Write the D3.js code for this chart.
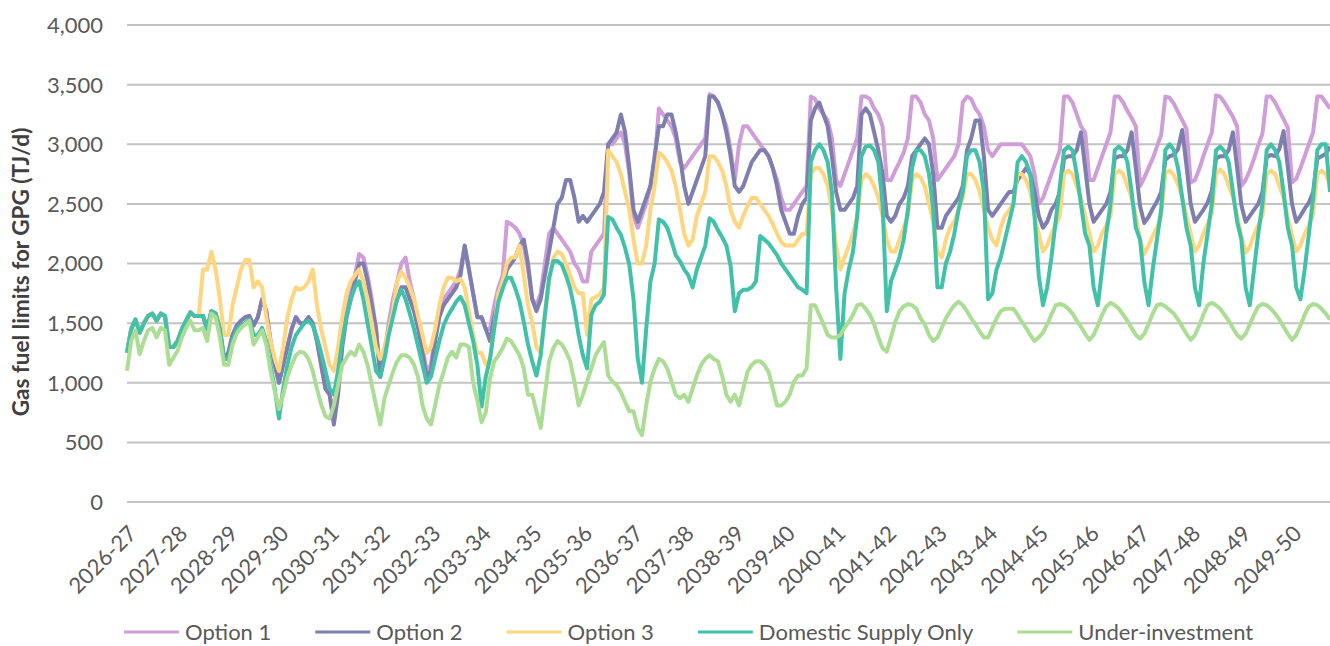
<!DOCTYPE html>
<html lang="en">
<head>
<meta charset="utf-8">
<title>Gas fuel limits for GPG</title>
<script src="https://d3js.org/d3.v7.min.js"></script>
<style>
    body {
        margin: 0;
        background: white;
    }
    text {
        font-family: Lato, "Open Sans", sans-serif;
        fill: #595959;
    }
</style>
</head>
<body>
<script type="text/javascript">

// financial years on the x axis (Jul - Jun)
var years = ["2026-27", "2027-28", "2028-29", "2029-30", "2030-31", "2031-32",
             "2032-33", "2033-34", "2034-35", "2035-36", "2036-37", "2037-38",
             "2038-39", "2039-40", "2040-41", "2041-42", "2042-43", "2043-44",
             "2044-45", "2045-46", "2046-47", "2047-48", "2048-49", "2049-50"];

// monthly values (TJ/d), one row per financial year
var domestic = [
    [1250, 1450, 1530, 1420, 1500, 1560, 1580, 1520, 1580, 1560, 1300, 1300],
    [1350, 1450, 1520, 1590, 1560, 1560, 1560, 1450, 1600, 1580, 1450, 1200],
    [1200, 1350, 1450, 1480, 1500, 1530, 1400, 1400, 1460, 1350, 1150, 950],
    [700, 950, 1150, 1300, 1400, 1450, 1500, 1520, 1480, 1380, 1250, 1100],
    [950, 900, 1100, 1350, 1550, 1700, 1800, 1850, 1700, 1500, 1300, 1100],
    [1050, 1200, 1400, 1550, 1700, 1780, 1700, 1580, 1450, 1300, 1150, 1000],
    [1050, 1200, 1350, 1480, 1560, 1620, 1680, 1720, 1650, 1500, 1350, 1150],
    [800, 1050, 1200, 1460, 1680, 1790, 1880, 1880, 1790, 1680, 1510, 1320],
    [1180, 1060, 1230, 1570, 1880, 2020, 2020, 1990, 1900, 1790, 1620, 1400],
    [1230, 1120, 1570, 1650, 1680, 1740, 2390, 2370, 2300, 2240, 2130, 1990],
    [1700, 1200, 1000, 1450, 1850, 2000, 2370, 2350, 2300, 2190, 2070, 2020],
    [1950, 1900, 1800, 1950, 2050, 2150, 2380, 2350, 2280, 2220, 2150, 1980],
    [1600, 1750, 1780, 1780, 1800, 1850, 2230, 2200, 2170, 2120, 2070, 2000],
    [1950, 1900, 1850, 1800, 1780, 1750, 2850, 2950, 3000, 2950, 2850, 2600],
    [1800, 1200, 1750, 1950, 2100, 2400, 2900, 2980, 2990, 2950, 2850, 2500],
    [1600, 1850, 1950, 2050, 2200, 2450, 2800, 2950, 2950, 2900, 2750, 2450],
    [1800, 1800, 2000, 2100, 2250, 2450, 2600, 2900, 2950, 2950, 2850, 2600],
    [1700, 1750, 1950, 2050, 2200, 2350, 2500, 2850, 2900, 2850, 2750, 2400],
    [1900, 1650, 1800, 2050, 2350, 2650, 2950, 2980, 2950, 2750, 2500, 2250],
    [2150, 1800, 1650, 1950, 2250, 2500, 2950, 2980, 2950, 2850, 2600, 2300],
    [2200, 1850, 1650, 1950, 2200, 2450, 2950, 3000, 2950, 2800, 2550, 2300],
    [2150, 1800, 1650, 2000, 2250, 2500, 2950, 2980, 2940, 2850, 2600, 2350],
    [2200, 1800, 1650, 1950, 2250, 2500, 2950, 3000, 2950, 2850, 2600, 2300],
    [2150, 1800, 1700, 1950, 2250, 2550, 2950, 3000, 3000, 2600]
];

var option3 = [
    [1250, 1450, 1530, 1420, 1500, 1560, 1580, 1520, 1580, 1560, 1300, 1300],
    [1350, 1450, 1520, 1590, 1560, 1560, 1950, 1950, 2100, 1950, 1700, 1400],
    [1400, 1650, 1800, 1950, 2030, 2030, 1800, 1850, 1800, 1550, 1350, 1200],
    [1100, 1300, 1550, 1700, 1800, 1780, 1800, 1850, 1950, 1650, 1450, 1300],
    [1150, 1100, 1300, 1550, 1750, 1850, 1900, 1950, 1850, 1700, 1500, 1300],
    [1200, 1300, 1450, 1600, 1850, 1930, 1880, 1800, 1700, 1550, 1400, 1250],
    [1300, 1450, 1650, 1800, 1880, 1880, 1850, 1870, 1800, 1600, 1400, 1250],
    [1250, 1150, 1200, 1450, 1750, 1850, 2000, 2050, 2050, 2150, 1900, 1650],
    [1500, 1300, 1250, 1550, 1850, 2050, 2100, 2080, 2000, 1900, 1800, 1750],
    [1750, 1400, 1700, 1720, 1740, 1800, 2950, 2900, 2850, 2750, 2600, 2450],
    [2200, 2000, 2000, 2150, 2450, 2650, 2930, 2900, 2850, 2780, 2650, 2450],
    [2250, 2150, 2200, 2400, 2500, 2600, 2900, 2900, 2850, 2780, 2650, 2450],
    [2350, 2300, 2400, 2480, 2550, 2550, 2500, 2450, 2400, 2330, 2250, 2180],
    [2150, 2150, 2150, 2200, 2250, 2250, 2750, 2800, 2800, 2750, 2650, 2450],
    [2150, 1950, 2050, 2150, 2250, 2400, 2700, 2750, 2720, 2650, 2550, 2400],
    [2200, 2100, 2100, 2200, 2300, 2400, 2700, 2750, 2720, 2650, 2500, 2350],
    [2100, 2050, 2200, 2300, 2350, 2450, 2550, 2750, 2750, 2700, 2600, 2450],
    [2300, 2200, 2150, 2300, 2400, 2450, 2500, 2750, 2750, 2700, 2600, 2400],
    [2250, 2100, 2150, 2250, 2320, 2400, 2750, 2780, 2750, 2650, 2550, 2400],
    [2250, 2100, 2150, 2250, 2320, 2400, 2750, 2780, 2750, 2650, 2550, 2400],
    [2200, 2080, 2150, 2230, 2300, 2400, 2760, 2780, 2740, 2660, 2550, 2400],
    [2250, 2100, 2150, 2250, 2330, 2420, 2750, 2790, 2750, 2650, 2560, 2400],
    [2230, 2090, 2140, 2240, 2320, 2400, 2750, 2780, 2750, 2650, 2550, 2390],
    [2240, 2100, 2150, 2250, 2320, 2410, 2750, 2780, 2750, 2650]
];

var option2 = [
    [1250, 1450, 1530, 1420, 1500, 1560, 1580, 1520, 1580, 1560, 1300, 1300],
    [1350, 1450, 1520, 1590, 1560, 1560, 1560, 1450, 1600, 1580, 1450, 1200],
    [1250, 1400, 1480, 1520, 1550, 1560, 1480, 1550, 1700, 1600, 1350, 1150],
    [1000, 1150, 1300, 1450, 1550, 1500, 1500, 1550, 1500, 1350, 1150, 950],
    [900, 650, 900, 1300, 1550, 1700, 1850, 2000, 2000, 1850, 1650, 1450],
    [1050, 1250, 1450, 1600, 1700, 1800, 1800, 1700, 1600, 1450, 1250, 1050],
    [1100, 1350, 1550, 1650, 1700, 1750, 1800, 1900, 2150, 1950, 1750, 1550],
    [1550, 1450, 1350, 1550, 1700, 1800, 1950, 2000, 2050, 2150, 2200, 2000],
    [1700, 1600, 1700, 1900, 2100, 2300, 2500, 2550, 2700, 2700, 2550, 2350],
    [2400, 2350, 2400, 2450, 2500, 2600, 3000, 3050, 3100, 3250, 3100, 2800],
    [2450, 2350, 2450, 2550, 2650, 2900, 3150, 3150, 3250, 3250, 3100, 2900],
    [2650, 2500, 2600, 2700, 2800, 2900, 3400, 3400, 3350, 3250, 3100, 2900],
    [2650, 2600, 2650, 2750, 2850, 2900, 2950, 2950, 2900, 2800, 2650, 2450],
    [2350, 2250, 2250, 2400, 2500, 2550, 3200, 3300, 3350, 3250, 3150, 2900],
    [2600, 2450, 2450, 2500, 2550, 2650, 3250, 3300, 3250, 3100, 2950, 2750],
    [2400, 2350, 2400, 2500, 2550, 2650, 2900, 2950, 3000, 3050, 3000, 2750],
    [2300, 2300, 2400, 2450, 2500, 2550, 2650, 2950, 3050, 3200, 3200, 2900],
    [2450, 2400, 2450, 2500, 2550, 2600, 2600, 2700, 2750, 2800, 2750, 2600],
    [2400, 2300, 2350, 2450, 2500, 2600, 2880, 2900, 2900, 2950, 3100, 2800],
    [2500, 2350, 2400, 2450, 2500, 2600, 2880, 2900, 2900, 2950, 3100, 2800],
    [2480, 2340, 2390, 2460, 2520, 2600, 2870, 2900, 2910, 2960, 3120, 2820],
    [2500, 2350, 2400, 2450, 2510, 2610, 2880, 2900, 2900, 2950, 3100, 2800],
    [2490, 2350, 2400, 2450, 2500, 2600, 2890, 2910, 2900, 2960, 3110, 2810],
    [2500, 2350, 2400, 2460, 2510, 2600, 2880, 2900, 2920, 2980]
];

var option1 = [
    [1250, 1450, 1530, 1420, 1500, 1560, 1580, 1520, 1580, 1560, 1300, 1300],
    [1350, 1450, 1520, 1590, 1560, 1560, 1560, 1450, 1600, 1580, 1450, 1200],
    [1250, 1400, 1480, 1520, 1550, 1560, 1480, 1550, 1700, 1600, 1350, 1150],
    [1000, 1150, 1300, 1450, 1550, 1500, 1500, 1550, 1500, 1350, 1150, 950],
    [900, 700, 950, 1350, 1600, 1750, 1900, 2080, 2050, 1900, 1700, 1450],
    [1050, 1250, 1500, 1700, 1850, 2000, 2050, 1850, 1700, 1500, 1300, 1100],
    [1150, 1400, 1600, 1700, 1750, 1800, 1850, 1950, 2150, 1950, 1750, 1550],
    [1550, 1450, 1450, 1650, 1800, 1900, 2350, 2330, 2300, 2250, 2150, 1950],
    [1700, 1650, 1750, 2000, 2250, 2300, 2250, 2200, 2150, 2100, 2000, 1950],
    [1850, 1850, 2100, 2150, 2200, 2250, 3000, 3000, 3050, 3100, 3000, 2750],
    [2400, 2300, 2400, 2500, 2650, 2850, 3300, 3250, 3200, 3150, 3050, 2850],
    [2800, 2850, 2900, 2950, 3000, 3050, 3420, 3400, 3350, 3250, 3150, 2950],
    [2700, 3000, 3150, 3150, 3100, 3050, 3000, 2950, 2900, 2800, 2700, 2550],
    [2450, 2450, 2500, 2550, 2600, 2650, 3400, 3380, 3300, 3250, 3200, 3050],
    [2700, 2650, 2750, 2850, 2950, 3050, 3400, 3400, 3380, 3300, 3250, 3150],
    [2700, 2700, 2780, 2850, 2930, 3050, 3400, 3400, 3350, 3250, 3200, 3050],
    [2700, 2750, 2800, 2850, 2900, 3000, 3350, 3400, 3380, 3300, 3250, 3150],
    [2950, 2900, 2950, 3000, 3000, 3000, 3000, 3000, 3000, 2950, 2900, 2750],
    [2500, 2550, 2650, 2750, 2850, 2950, 3400, 3400, 3350, 3250, 3150, 3100],
    [2700, 2700, 2800, 2900, 3000, 3100, 3400, 3400, 3350, 3280, 3220, 3150],
    [2650, 2720, 2800, 2880, 2980, 3080, 3400, 3390, 3340, 3270, 3200, 3130],
    [2680, 2700, 2790, 2900, 3000, 3100, 3410, 3400, 3350, 3290, 3230, 3150],
    [2650, 2700, 2780, 2880, 2990, 3090, 3400, 3400, 3350, 3280, 3210, 3140],
    [2680, 2710, 2800, 2900, 3000, 3100, 3400, 3400, 3350, 3300]
];

var underInvestment = [
    [1100, 1350, 1440, 1240, 1350, 1440, 1460, 1380, 1460, 1440, 1150, 1210],
    [1270, 1380, 1460, 1520, 1440, 1440, 1460, 1350, 1580, 1550, 1380, 1150],
    [1150, 1320, 1410, 1460, 1490, 1520, 1320, 1380, 1440, 1320, 1100, 930],
    [780, 900, 1050, 1150, 1230, 1260, 1250, 1200, 1100, 950, 820, 720],
    [700, 810, 980, 1150, 1210, 1260, 1230, 1320, 1260, 1150, 980, 810],
    [650, 870, 980, 1090, 1180, 1230, 1230, 1210, 1150, 1040, 810, 700],
    [650, 810, 980, 1090, 1210, 1260, 1210, 1320, 1320, 1300, 1000, 850],
    [670, 750, 1040, 1180, 1230, 1290, 1370, 1350, 1290, 1230, 1120, 900],
    [900, 760, 620, 900, 1180, 1290, 1350, 1320, 1260, 1180, 1010, 810],
    [900, 1010, 1120, 1230, 1290, 1340, 1060, 1010, 980, 920, 840, 760],
    [760, 620, 560, 810, 1010, 1120, 1200, 1180, 1120, 1010, 900, 870],
    [900, 840, 950, 1060, 1150, 1200, 1230, 1200, 1180, 1060, 900, 840],
    [900, 810, 950, 1090, 1150, 1180, 1180, 1150, 1090, 950, 810, 810],
    [840, 900, 1010, 1060, 1060, 1120, 1650, 1650, 1570, 1490, 1400, 1380],
    [1380, 1400, 1460, 1510, 1570, 1650, 1660, 1620, 1570, 1490, 1380, 1290],
    [1260, 1380, 1510, 1600, 1640, 1660, 1650, 1620, 1540, 1490, 1400, 1350],
    [1380, 1460, 1540, 1600, 1650, 1680, 1650, 1600, 1540, 1490, 1430, 1380],
    [1380, 1460, 1540, 1600, 1620, 1620, 1620, 1570, 1510, 1460, 1400, 1350],
    [1380, 1420, 1490, 1570, 1650, 1660, 1650, 1620, 1580, 1520, 1470, 1410],
    [1360, 1400, 1480, 1570, 1640, 1670, 1650, 1620, 1570, 1520, 1460, 1400],
    [1370, 1410, 1490, 1580, 1650, 1660, 1640, 1610, 1580, 1530, 1470, 1410],
    [1360, 1400, 1480, 1570, 1650, 1670, 1650, 1620, 1570, 1520, 1460, 1400],
    [1370, 1410, 1490, 1570, 1640, 1660, 1650, 1620, 1580, 1530, 1470, 1410],
    [1360, 1400, 1480, 1570, 1640, 1660, 1650, 1620, 1580, 1530]
];

var seriesNames = ["Option 1", "Option 2", "Option 3", "Domestic Supply Only", "Under-investment"];
var seriesColors = ["#CF9ED8", "#7E7EAF", "#FED67F", "#41C1A8", "#ACDD95"];
var seriesValues = [option1, option2, option3, domestic, underInvestment];

var yTicks = [0, 500, 1000, 1500, 2000, 2500, 3000, 3500, 4000];

var width = 1330,
    height = 646;
var plot = { left: 127, right: 1330, top: 25, bottom: 502 };

var svg = d3.select("body")
    .append("svg")
    .attr("width", width)
    .attr("height", height);

// turn each series into points at month positions (in years from Jul 2026)
var series = seriesNames.map(function(name, i) {
    var pts = [];
    seriesValues[i].forEach(function(row, y) {
        row.forEach(function(v, m) {
            pts.push({ t: y + m / 12, v: v });
        });
    });
    return { name: name, color: seriesColors[i], points: pts };
});

var lastT = d3.max(series[0].points, d => d.t);

var xScale = d3.scaleLinear()
    .domain([0, lastT])
    .range([plot.left, plot.right]);

var yScale = d3.scaleLinear()
    .domain([0, 4000])
    .range([plot.bottom, plot.top]);

// gridlines
svg.append("g")
    .selectAll("line")
    .data(yTicks)
    .enter()
    .append("line")
    .attr("x1", plot.left)
    .attr("x2", plot.right)
    .attr("y1", d => yScale(d))
    .attr("y2", d => yScale(d))
    .attr("stroke", "#C3C3C3")
    .attr("stroke-width", 2);

// y tick labels
svg.append("g")
    .selectAll("text")
    .data(yTicks)
    .enter()
    .append("text")
    .attr("x", 103)
    .attr("y", d => yScale(d))
    .attr("dy", "0.36em")
    .attr("text-anchor", "end")
    .style("font-size", "22px")
    .text(d3.format(","));

// x tick labels, rotated
svg.append("g")
    .selectAll("text")
    .data(years)
    .enter()
    .append("text")
    .attr("text-anchor", "end")
    .attr("transform", (d, i) => `translate(${xScale(i) + 11},${535}) rotate(-45)`)
    .style("font-size", "22px")
    .text(d => d);

// y axis title
svg.append("text")
    .attr("transform", `translate(29,${272}) rotate(-90)`)
    .attr("text-anchor", "middle")
    .style("font-size", "22.5px")
    .style("font-weight", "bold")
    .style("fill", "#404040")
    .text("Gas fuel limits for GPG (TJ/d)");

// the lines
var line = d3.line()
    .x(d => xScale(d.t))
    .y(d => yScale(d.v));

svg.append("g")
    .selectAll("path")
    .data(series)
    .enter()
    .append("path")
    .attr("d", d => line(d.points))
    .attr("fill", "none")
    .attr("stroke", d => d.color)
    .attr("stroke-width", 4)
    .attr("stroke-linejoin", "round");

// legend
var legend = svg.append("g");
var lx = 124,
    ly = 632;
series.forEach(function(s) {
    legend.append("line")
        .attr("x1", lx)
        .attr("x2", lx + 55)
        .attr("y1", ly)
        .attr("y2", ly)
        .attr("stroke", s.color)
        .attr("stroke-width", 3);
    var t = legend.append("text")
        .attr("x", lx + 61)
        .attr("y", ly)
        .attr("dy", "0.36em")
        .style("font-size", "22px")
        .text(s.name);
    lx += 61 + t.node().getComputedTextLength() + 44;
});

</script>
</body>
</html>
